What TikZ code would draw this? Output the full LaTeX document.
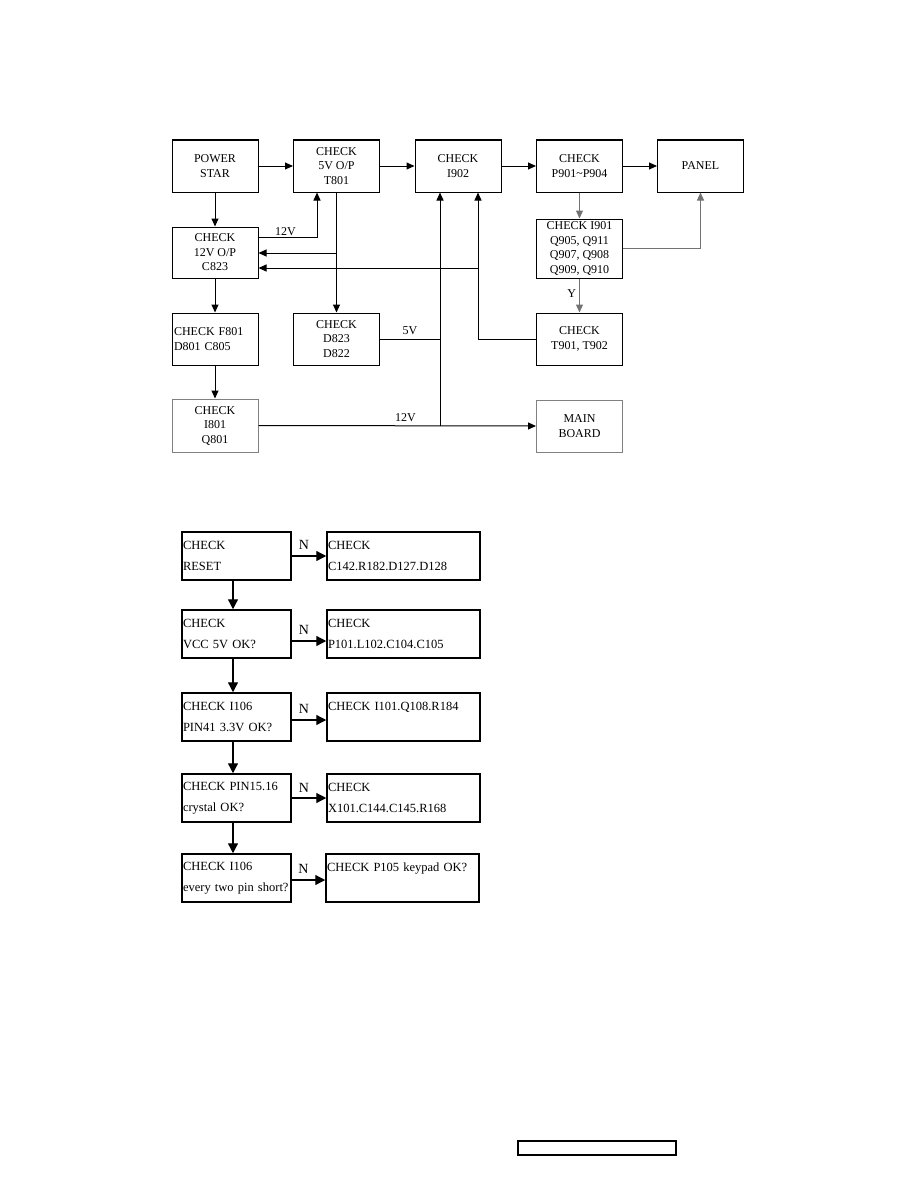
\documentclass[tikz,border=0pt]{standalone}
\usepackage{fontspec}
\setmainfont{Liberation Serif}
\usetikzlibrary{arrows.meta,positioning}

\begin{document}
\begin{tikzpicture}[
  x=1pt, y=-1pt,
  unitbox/.style={draw, line width=1pt, align=center, inner sep=2pt,
                  minimum width=86pt, minimum height=52pt,
                  font=\fontsize{12}{14.5}\selectfont},
  greybox/.style={unitbox, draw=black!50},
  checkbox/.style={draw, line width=1.5pt, align=left, text width=107pt,
                   inner sep=1pt, minimum height=48pt,
                   font=\fontsize{12.5}{21}\selectfont},
  partbox/.style={checkbox, text width=151pt},
  sigarr/.style={-{Triangle[length=8pt,width=7pt]}, line width=1pt},
  greyarr/.style={sigarr, draw=black!55},
  flowarr/.style={-{Triangle[length=10pt,width=10pt]}, line width=1.3pt},
  vlabel/.style={font=\fontsize{12}{14}\selectfont, inner sep=1pt},
  nlabel/.style={font=\fontsize{14}{16}\selectfont, inner sep=1pt}
]
  \useasboundingbox (0,0) rectangle (918,1188);

  % power board block diagram
  \node[unitbox] (power) at (215,166) {POWER\\STAR};
  \node[unitbox] (t801) at (336.5,166) {CHECK\\5V O/P\\T801};
  \node[unitbox] (i902) at (458,166) {CHECK\\I902};
  \node[unitbox] (p901) at (579.5,166) {CHECK\\P901\textasciitilde P904};
  \node[unitbox] (panel) at (700.5,166) {PANEL};
  \node[unitbox, minimum height=51pt] (c823) at (215,252.5)
    {CHECK\\12V O/P\\C823};
  \node[unitbox, minimum height=59pt] (i901) at (579.5,248.5)
    {CHECK I901\\Q905, Q911\\Q907, Q908\\Q909, Q910};
  \node[unitbox, align=left, text width=82pt] (f801) at (215,339)
    {CHECK F801\\D801 C805};
  \node[unitbox] (d823) at (336.5,339) {CHECK\\D823\\D822};
  \node[unitbox] (t901) at (579.5,339) {CHECK\\T901, T902};
  \node[greybox, minimum height=53pt] (i801) at (215,425.5)
    {CHECK\\I801\\Q801};
  \node[greybox] (board) at (579.5,426) {MAIN\\BOARD};

  \coordinate (tap5) at (336.5,253);
  \coordinate (tap9) at (478,268);
  \coordinate (bus) at (440,426);

  \draw[sigarr] (power) -- (t801);
  \draw[sigarr] (t801) -- (i902);
  \draw[sigarr] (i902) -- (p901);
  \draw[sigarr] (p901) -- (panel);
  \draw[sigarr] (power) -- (c823);
  \draw[sigarr] ([yshift=15.5pt]c823.east) -| node[vlabel, above, pos=0.23]{12V}
    ([xshift=-19.5pt]t801.south);
  \draw[sigarr] (t801.south) -- (d823.north);
  \draw[sigarr] (tap5) -- (c823.east |- tap5);
  \draw[sigarr] (t901.west) -| ([xshift=20pt]i902.south);
  \draw[sigarr] (tap9) -- (c823.east |- tap9);
  \draw[sigarr] (bus) -- (bus |- i902.south);
  \draw[line width=1pt] (d823.east) -- node[vlabel, above=3pt, pos=0.5]{5V}
    (d823.east -| bus);
  \draw[sigarr] (i801.east) -- node[vlabel, above=3pt, pos=0.53]{12V} (board.west);
  \draw[greyarr] (p901) -- (i901);
  \draw[greyarr] (i901.east) -| (panel.south);
  \draw[greyarr] (i901) -- node[vlabel, left=2pt, pos=0.45]{Y} (t901);
  \draw[sigarr] (c823) -- (f801);
  \draw[sigarr] (f801) -- (i801);

  % key board check flow
  \node[checkbox] (reset) at (236.5,556) {CHECK\\RESET};
  \node[partbox] (c142) at (403.5,556) {CHECK\\C142.R182.D127.D128};
  \node[checkbox] (vcc) at (236.5,634) {CHECK\\VCC 5V OK?};
  \node[partbox] (p101) at (403.5,634) {CHECK\\P101.L102.C104.C105};
  \node[checkbox] (i106) at (236.5,717) {CHECK I106\\PIN41 3.3V OK?};
  \node[partbox] (i101) at (403.5,717) {CHECK I101.Q108.R184\\\mbox{}};
  \node[checkbox] (pin15) at (236.5,798) {CHECK PIN15.16\\crystal OK?};
  \node[partbox] (x101) at (403.5,798) {CHECK\\X101.C144.C145.R168};
  \node[checkbox] (short) at (236.5,878)
    {CHECK I106\\\mbox{every two pin short?}};
  \node[partbox] (p105) at (402.5,878) {CHECK P105 keypad OK?\\\mbox{}};

  \draw[flowarr] (reset) -- node[nlabel, above=5pt, pos=0.35]{N} (c142);
  \draw[flowarr] ([yshift=-7pt]vcc.east) -- node[nlabel, above=5pt, pos=0.35]{N}
    ([yshift=-7pt]vcc.east -| p101.west);
  \draw[flowarr] ([yshift=-3pt]i106.east) -- node[nlabel, above=5pt, pos=0.35]{N}
    ([yshift=-3pt]i106.east -| i101.west);
  \draw[flowarr] (pin15) -- node[nlabel, above=4pt, pos=0.35]{N} (x101);
  \draw[flowarr] ([yshift=-2pt]short.east) -- node[nlabel, above=5pt, pos=0.35]{N}
    ([yshift=-2pt]short.east -| p105.west);
  \draw[flowarr] ([xshift=-3.5pt]reset.south) -- ([xshift=-3.5pt]vcc.north);
  \draw[flowarr] ([xshift=-3.5pt]vcc.south) -- ([xshift=-3.5pt]i106.north);
  \draw[flowarr] ([xshift=-3.5pt]i106.south) -- ([xshift=-3.5pt]pin15.north);
  \draw[flowarr] ([xshift=-3.5pt]pin15.south) -- ([xshift=-3.5pt]short.north);

  \node[draw, line width=1.5pt, minimum width=158pt, minimum height=14pt,
        inner sep=0pt] (footer) at (597,1148) {};
\end{tikzpicture}
\end{document}
